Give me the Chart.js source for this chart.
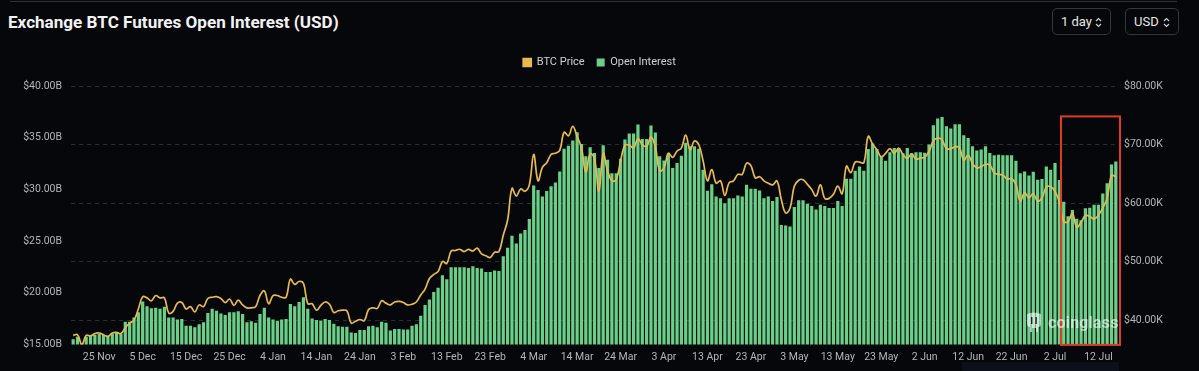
<!DOCTYPE html>
<html><head><meta charset="utf-8">
<script src="https://cdn.jsdelivr.net/npm/chart.js@4.4.1/dist/chart.umd.min.js"></script>
<style>
html,body{margin:0;padding:0;background:#05070b;}
#wrap{position:relative;width:1199px;height:371px;overflow:hidden;background:#05070b;}
#topline{position:absolute;left:10px;top:1px;width:1167px;height:1px;background:#303236;}
#title{position:absolute;left:8px;top:12px;color:#f2f2f2;font:700 17.1px Roboto,sans-serif;letter-spacing:0px;white-space:nowrap;}
.btn{position:absolute;top:8px;height:27px;border:1px solid #33363b;border-radius:5px;color:#e6e6e6;font:13px Roboto,sans-serif;box-sizing:border-box;display:flex;align-items:center;}
.btn span{margin-left:8px;}
.btn svg{position:absolute;right:8px;top:8px;}
#cv{position:absolute;left:0;top:0;}
#strip{position:absolute;left:962px;top:362px;width:157px;height:9px;background:#0b101a;}
#wm{position:absolute;left:1024px;top:311px;display:flex;align-items:center;opacity:0.6;pointer-events:none;}
#wm span{color:#ffffff;font:600 16px Roboto,sans-serif;margin-left:4px;letter-spacing:0.2px;}
</style>
</head><body>
<div id="wrap">
  <div id="topline"></div>
  <div id="title">Exchange BTC Futures Open Interest (USD)</div>
  <div class="btn" style="left:1052px;width:59px;"><span>1 day</span>
    <svg width="7" height="11" viewBox="0 0 7 11"><path d="M1 4 L3.5 1.5 L6 4 M1 7 L3.5 9.5 L6 7" stroke="#cfcfcf" stroke-width="1.2" fill="none"/></svg></div>
  <div class="btn" style="left:1125px;width:54px;"><span>USD</span>
    <svg width="7" height="11" viewBox="0 0 7 11"><path d="M1 4 L3.5 1.5 L6 4 M1 7 L3.5 9.5 L6 7" stroke="#cfcfcf" stroke-width="1.2" fill="none"/></svg></div>
  <canvas id="cv" width="1199" height="371"></canvas>
  <div id="strip"></div>
  <div id="wm">
    <svg width="20" height="22" viewBox="0 0 20 22"><path d="M3 3 Q10 0 17 3 L17 13 Q17 16 14 16 L14 21 L12 21 L12 17 L8 17 L8 21 L6 21 L6 16 Q3 16 3 13 Z" fill="#ffffff"/><rect x="7" y="6" width="1.5" height="7" fill="#05070b"/><rect x="11.5" y="6" width="1.5" height="7" fill="#05070b"/></svg>
    <span>coinglass</span>
  </div>
</div>
<script>
// ---- data ----
const startDate = { year: 2023, month: 10, day: 19 }; // 19 Nov 2023 (month 0-based)
const monthNames = ['Jan','Feb','Mar','Apr','May','Jun','Jul','Aug','Sep','Oct','Nov','Dec'];

// Open interest, billions USD (daily, 19 Nov 2023 – 16 Jul 2024)
const openInterest = [
  15.5,15.75,15.1,15.75,15.85,15.9,16.0,15.9,15.85,16.05,16.1,16.0,
  17.2,17.2,17.6,18.1,19.15,18.7,18.5,18.55,18.45,18.65,17.6,17.6,17.4,17.45,16.8,16.8,16.65,16.95,17.15,18.05,18.45,18.25,18.0,17.85,18.1,18.1,18.2,17.95,17.15,17.25,17.1,
  17.95,18.55,17.6,17.4,17.3,17.4,17.45,18.9,18.7,19.1,19.55,18.45,17.5,17.35,17.3,17.45,17.35,17.0,16.75,16.7,16.7,16.15,16.1,16.4,16.4,16.75,16.8,16.65,17.2,17.1,16.35,
  16.5,16.5,16.43,16.43,16.8,16.95,17.76,18.82,19.35,20.06,20.48,21.68,21.3,22.46,22.46,22.46,22.46,22.4,22.55,22.4,22.35,22.0,22.0,22.15,22.1,23.53,24.34,25.5,24.76,
  25.73,26.06,27.13,30.37,29.95,29.3,29.85,30.3,30.66,31.73,33.94,34.23,34.72,35.53,34.4,33.2,34.07,33.52,32.06,34.27,32.87,31.57,31.57,32.97,34.82,35.4,35.4,36.28,34.88,34.88,36.18,
  35.5,33.2,32.8,33.49,32.06,32.55,33.26,34.5,34.17,34.17,33.94,31.9,29.86,30.5,29.3,29.14,28.65,29.14,29.14,29.4,29.3,30.44,30.05,30.05,29.9,29.14,29.3,28.88,29.25,26.55,
  26.5,26.4,28.3,28.94,28.94,28.6,28.4,28.04,28.5,28.4,28.2,28.2,28.88,28.4,31.02,31.02,31.8,32.2,31.8,33.9,34.43,33.9,33.2,32.78,33.6,34.0,34.0,33.5,34.0,33.5,33.6,
  33.6,33.55,34.34,36.2,36.86,37.0,36.1,35.9,36.3,36.3,35.24,34.98,34.17,33.75,33.85,34.17,33.52,33.3,33.36,33.3,33.3,33.3,32.78,31.57,31.73,31.35,31.7,30.92,31.0,32.2,
  31.9,32.55,30.9,28.8,27.4,28.0,27.15,27.0,28.17,28.23,28.5,28.5,29.6,30.6,32.4,32.7
];

// BTC price, thousands USD
const btcPrice = [
  37.4,37.5,35.8,37.4,37.3,37.7,37.8,37.5,37.2,37.8,37.9,37.7,
  38.7,39.5,40.0,41.9,44.0,43.8,43.3,44.2,43.8,43.8,41.2,41.5,42.9,43.0,41.9,42.3,41.4,42.6,42.3,43.7,43.9,44.0,43.7,43.0,43.6,42.5,43.4,42.6,42.1,42.1,42.3,
  44.2,45.0,42.8,44.2,44.2,43.9,43.9,47.0,46.1,46.6,46.3,42.8,42.8,41.7,42.5,43.1,42.7,41.3,41.6,41.7,41.6,39.5,39.8,40.1,39.9,41.8,42.1,42.0,43.3,42.9,42.6,
  43.1,43.2,43.0,42.6,42.7,43.1,44.3,45.3,47.1,47.8,48.3,50.0,49.7,51.8,51.9,52.1,51.7,52.1,51.8,52.3,51.3,51.0,50.7,51.6,51.7,54.5,57.1,62.5,61.2,
  62.4,62.0,63.1,68.3,63.8,66.1,66.9,68.3,68.5,69.0,72.1,71.5,73.1,71.4,69.4,65.3,68.4,67.6,62.0,68.5,65.5,63.8,64.0,67.2,69.9,69.9,69.4,71.0,70.0,69.7,71.3,
  69.6,65.5,66.0,68.5,67.8,68.9,69.4,71.6,69.1,70.6,70.0,67.2,63.8,65.7,63.4,63.8,61.3,63.5,63.8,64.9,64.9,66.8,66.4,64.3,64.5,63.8,63.4,63.1,63.8,60.6,
  58.3,59.1,62.9,63.9,64.0,63.2,62.3,61.2,63.1,60.8,60.8,61.5,62.9,61.6,66.3,65.2,67.0,67.0,66.9,71.4,70.1,69.1,67.9,68.5,69.3,68.5,69.4,68.3,67.6,68.4,67.5,
  67.7,67.8,68.8,70.6,71.1,70.8,69.3,69.3,69.6,69.5,67.3,68.2,66.8,66.0,66.2,66.6,66.5,65.2,64.9,64.8,64.1,64.2,63.2,60.3,61.8,60.9,61.6,60.3,60.9,62.7,
  62.8,62.0,60.2,56.9,56.8,58.2,55.9,56.7,57.9,57.7,57.3,57.9,59.2,60.8,64.7,64.5
];

const oiTicks = [15, 20, 25, 30, 35, 40];          // $B
const priceTicks = [40, 50, 60, 70, 80];           // $K
const labelEvery = 10, firstLabelIndex = 6;        // 25 Nov, 5 Dec, ...
const highlightStartIndex = 228;                   // red box from 4 Jul
const highlightTopPrice = 74.8;

const categories = [];
for (let i = 0; i < openInterest.length; i++) {
  const d = new Date(Date.UTC(startDate.year, startDate.month, startDate.day + i));
  categories.push(d.getUTCDate() + ' ' + monthNames[d.getUTCMonth()]);
}

const legendMargin = {
  id: 'legendMargin',
  beforeInit(chart) {
    const orig = chart.legend.fit;
    chart.legend.fit = function () { orig.call(this); this.height += 8; };
  }
};

const highlight = {
  id: 'highlight',
  afterDatasetsDraw(chart) {
    const x = chart.scales.x, yR = chart.scales.yR, a = chart.chartArea, ctx = chart.ctx;
    const step = x.getPixelForValue(1) - x.getPixelForValue(0);
    const left = x.getPixelForValue(highlightStartIndex) - step / 2 - 0.5;
    const right = a.right + 2;
    const top = yR.getPixelForValue(highlightTopPrice);
    const bottom = a.bottom + 0.5;
    ctx.save();
    ctx.strokeStyle = '#e23a24';
    ctx.lineWidth = 2;
    ctx.strokeRect(left, top, right - left, bottom - top);
    ctx.restore();
  }
};

const axisFont = { family: 'Roboto, sans-serif', size: 10.5 };

new Chart(document.getElementById('cv'), {
  data: {
    labels: categories,
    datasets: [
      {
        type: 'line', label: 'BTC Price', data: btcPrice, yAxisID: 'yR',
        borderColor: '#E8BA4E', backgroundColor: '#E8BA4E', borderWidth: 1.7,
        pointRadius: 0, tension: 0.4
      },
      {
        type: 'bar', label: 'Open Interest', data: openInterest, yAxisID: 'yL',
        backgroundColor: '#6ccf88', borderWidth: 0,
        barPercentage: 0.74, categoryPercentage: 1.0
      }
    ]
  },
  options: {
    responsive: false, animation: false, devicePixelRatio: 1,
    layout: { padding: { top: 45, bottom: 0, left: 0, right: 0 } },
    plugins: {
      legend: {
        position: 'top', align: 'center',
        labels: { boxWidth: 8, boxHeight: 8, color: '#d0d0d0', padding: 12,
                  font: { family: 'Roboto, sans-serif', size: 11 } }
      },
      tooltip: { enabled: false }
    },
    scales: {
      x: {
        offset: true,
        grid: { display: false, drawTicks: false },
        border: { display: false },
        ticks: {
          autoSkip: false, maxRotation: 0, minRotation: 0, padding: 7,
          color: '#b5b5b5', font: axisFont,
          callback: function (v, i) {
            return ((i - firstLabelIndex) % labelEvery === 0 && i >= firstLabelIndex) ? this.getLabelForValue(v) : '';
          }
        }
      },
      yL: {
        position: 'left', min: 15, max: 40,
        grid: { display: false, drawTicks: false },
        border: { display: false },
        afterBuildTicks: s => { s.ticks = oiTicks.map(v => ({ value: v })); },
        afterFit: s => { s.width = 71; },
        ticks: { padding: 9, color: '#b5b5b5', font: axisFont,
                 callback: v => '$' + Number(v).toFixed(2) + 'B' }
      },
      yR: {
        position: 'right', min: 35.85, max: 80,
        grid: { color: '#2a2d31', lineWidth: 1, drawTicks: false },
        border: { display: false, dash: [4, 4] },
        afterBuildTicks: s => { s.ticks = priceTicks.map(v => ({ value: v })); },
        afterFit: s => { s.width = 81; },
        ticks: { padding: 6, color: '#b5b5b5', font: axisFont,
                 callback: v => '$' + Number(v).toFixed(2) + 'K' }
      }
    }
  },
  plugins: [legendMargin, highlight]
});
</script>
</body></html>
